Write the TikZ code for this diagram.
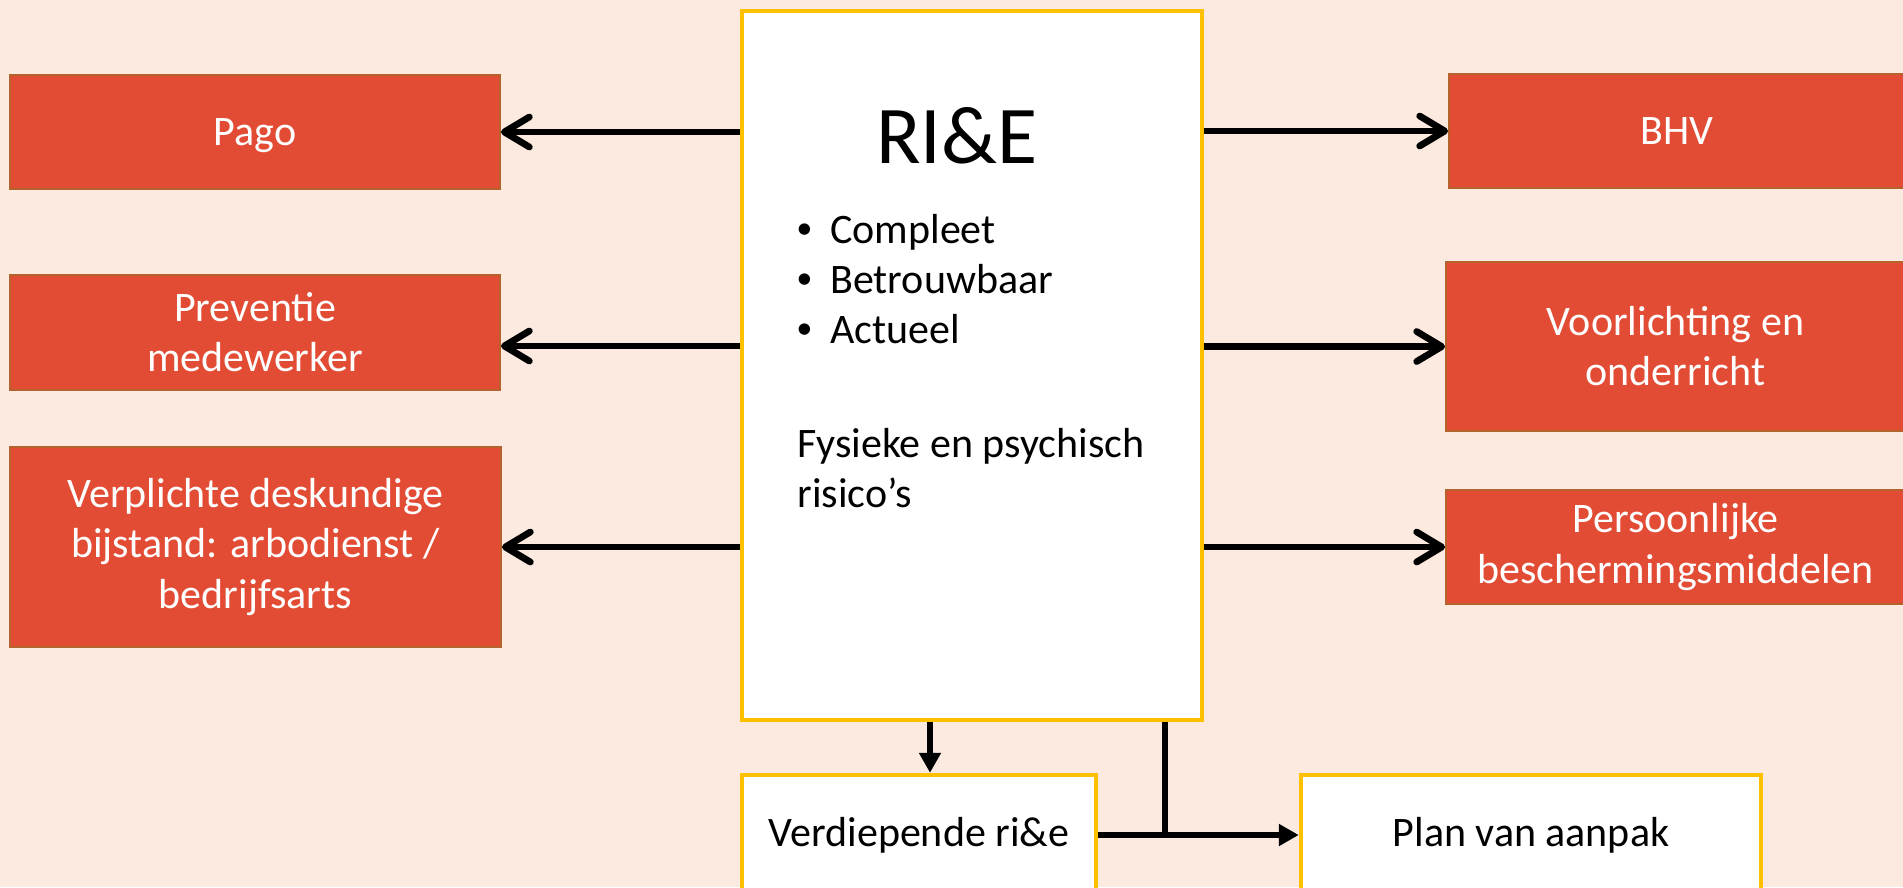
\documentclass[tikz,border=0pt]{standalone}
\usepackage{fontspec}
\setmainfont{Carlito}
\newfontfamily\bulletfont{Liberation Sans}
\usetikzlibrary{arrows.meta}
\definecolor{bgc}{HTML}{FCEAE0}
\definecolor{redfill}{HTML}{E34C34}
\definecolor{redline}{HTML}{B5622C}
\definecolor{gold}{HTML}{FFC000}
\newcommand\bodyfont{\fontsize{23.9pt}{28.5pt}\selectfont}
\newcommand\titlefont{\fontsize{46.7pt}{56pt}\selectfont}
\tikzset{
  redbox/.style={draw=redline, line width=0.04cm, fill=redfill, text=white, align=center, font=\bodyfont, inner sep=0pt},
  whitebox/.style={draw=gold, line width=0.09cm, fill=white, align=center, font=\bodyfont, inner sep=0pt},
  txt/.style={inner sep=0pt, font=\bodyfont},
  dotmark/.style={inner sep=0pt, font=\bodyfont\bulletfont},
  conn/.style={line width=0.135cm, -{Straight Barb[length=0.5cm, width=0.6cm, round]}},
  tri/.style={line width=0.13cm, -{Triangle[length=0.4cm, width=0.42cm]}},
  plainline/.style={line width=0.13cm}
}
\begin{document}
\begin{tikzpicture}[x=0.02cm, y=-0.02cm]
\path[use as bounding box, fill=bgc] (0,0) rectangle (1903,887);
\clip (0,0) rectangle (1903,887);

% left boxes
\node[redbox, minimum width=9.8cm, minimum height=2.28cm, text depth=0pt] (pago) at (255,132) {Pago};
\node[redbox, minimum width=9.8cm, minimum height=2.3cm] (prev) at (255,332.5) {Preventie\\medewerker};
\node[redbox, minimum width=9.82cm, minimum height=4cm] (verp) at (255.5,547) {Verplichte deskundige\\bijstand: arbodienst /\\bedrijfsarts};

% central box
\node[whitebox, minimum width=9.2cm, minimum height=14.18cm] (rie) at (972,365.5) {};
\node[anchor=base, inner sep=0pt, font=\titlefont] (title) at (957,163) {RI\&E};
\node[dotmark, anchor=base west] (d1) at (797,243) {•};
\node[txt, anchor=base west] (t1) at (830,243) {Compleet};
\node[dotmark, anchor=base west] (d2) at (797,293) {•};
\node[txt, anchor=base west] (t2) at (830,293) {Betrouwbaar};
\node[dotmark, anchor=base west] (d3) at (797,343) {•};
\node[txt, anchor=base west] (t3) at (830,343) {Actueel};
\node[txt, anchor=base west] (f1) at (797,457) {Fysieke en psychisch};
\node[txt, anchor=base west] (f2) at (797,507) {risico’s};

% right boxes
\node[redbox, minimum width=9.12cm, minimum height=2.28cm] (bhv) at (1677,131) {BHV};
\node[redbox, minimum width=9.18cm, minimum height=3.38cm] (voor) at (1675.5,346.5) {Voorlichting en\\onderricht};
\node[redbox, minimum width=9.18cm, minimum height=2.28cm] (pers) at (1675.5,547) {Persoonlijke\\beschermingsmiddelen};

% bottom boxes
\node[whitebox, minimum width=7.08cm, minimum height=2.4cm] (verd) at (919,835) {Verdiepende ri\&e};
\node[whitebox, minimum width=9.2cm, minimum height=2.4cm] (plan) at (1531,835) {Plan van aanpak};

% connectors
\draw[conn] (rie.west |- pago.east) -- (pago.east);
\coordinate (pa) at ([yshift=-0.27cm]prev.east);
\draw[conn] (rie.west |- pa) -- (pa);
\draw[conn] (rie.west |- verp.east) -- (verp.east);
\draw[conn] (rie.east |- bhv.west) -- (bhv.west);
\draw[conn] (rie.east |- voor.west) -- (voor.west);
\draw[conn] (rie.east |- pers.west) -- (pers.west);

\coordinate (rd) at ([xshift=-0.84cm]rie.south);
\draw[tri] (rd) -- (rd |- verd.north);
\coordinate (rs) at ([xshift=3.86cm]rie.south);
\draw[plainline] (rs) -- (rs |- verd.east);
\draw[tri] (verd.east) -- (plan.west);
\end{tikzpicture}
\end{document}
